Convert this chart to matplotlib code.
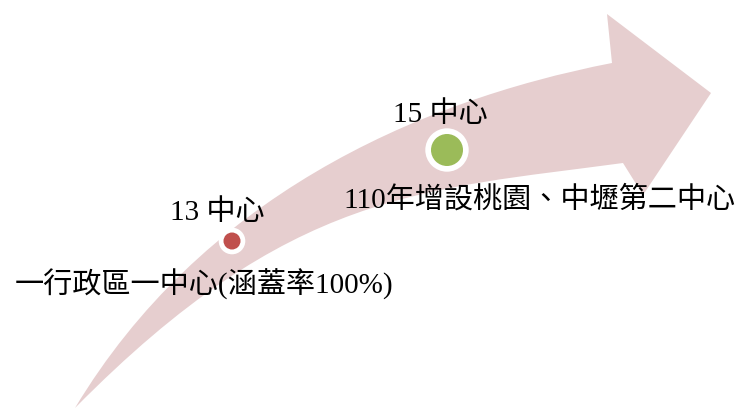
"""Curved growth arrow with two milestone markers (service centres)."""

import matplotlib

matplotlib.use("Agg")
import matplotlib.pyplot as plt
from matplotlib.path import Path
from matplotlib.patches import PathPatch, Circle

# milestones along the arrow
counts = ["13 中心", "15 中心"]
notes = ["一行政區一中心(涵蓋率100%)", "110年增設桃園、中壢第二中心"]
dot_colors = ["#C0504D", "#9BBB59"]

# arrow outline (pixel space of a 738x408 canvas)
tail = (75, 408)
upper_ctrl = [(200, 200), (412, 102)]
shaft_top = (612, 63)
head_pts = [(607, 14), (711, 93), (643, 195)]
shaft_bot = (623, 163)
lower_ctrl = [(423, 190), (290, 190)]

W, H = 738, 408
fig = plt.figure(figsize=(W / 100, H / 100), dpi=100)
ax = fig.add_axes([0, 0, 1, 1])
ax.set_xlim(0, W)
ax.set_ylim(H, 0)
ax.axis("off")

verts = [tail, upper_ctrl[0], upper_ctrl[1], shaft_top] + head_pts + \
    [shaft_bot, lower_ctrl[0], lower_ctrl[1], tail]
codes = [Path.MOVETO, Path.CURVE4, Path.CURVE4, Path.CURVE4,
         Path.LINETO, Path.LINETO, Path.LINETO, Path.LINETO,
         Path.CURVE4, Path.CURVE4, Path.CURVE4]
ax.add_patch(PathPatch(Path(verts, codes), facecolor="#E6CECF", edgecolor="none"))

fonts = ["Liberation Serif", "Noto Sans CJK TC"]

# marker geometry
dot_xy = [(232, 241), (447, 150)]
dot_r = [8.5, 16]
ring_r = [13.3, 21.7]
count_xy = [(217, 213), (440, 115)]
note_xy = [(15, 284), (343, 200)]

for i in range(len(counts)):
    ax.add_patch(Circle(dot_xy[i], ring_r[i], facecolor="white", edgecolor="none"))
    ax.add_patch(Circle(dot_xy[i], dot_r[i], facecolor=dot_colors[i], edgecolor="none"))
    ax.text(count_xy[i][0], count_xy[i][1], counts[i], family=fonts,
            fontsize=21, ha="center", va="center", color="black")
    ax.text(note_xy[i][0], note_xy[i][1], notes[i], family=fonts,
            fontsize=21, ha="left", va="center", color="black")

fig.savefig("out.png", dpi=100)
